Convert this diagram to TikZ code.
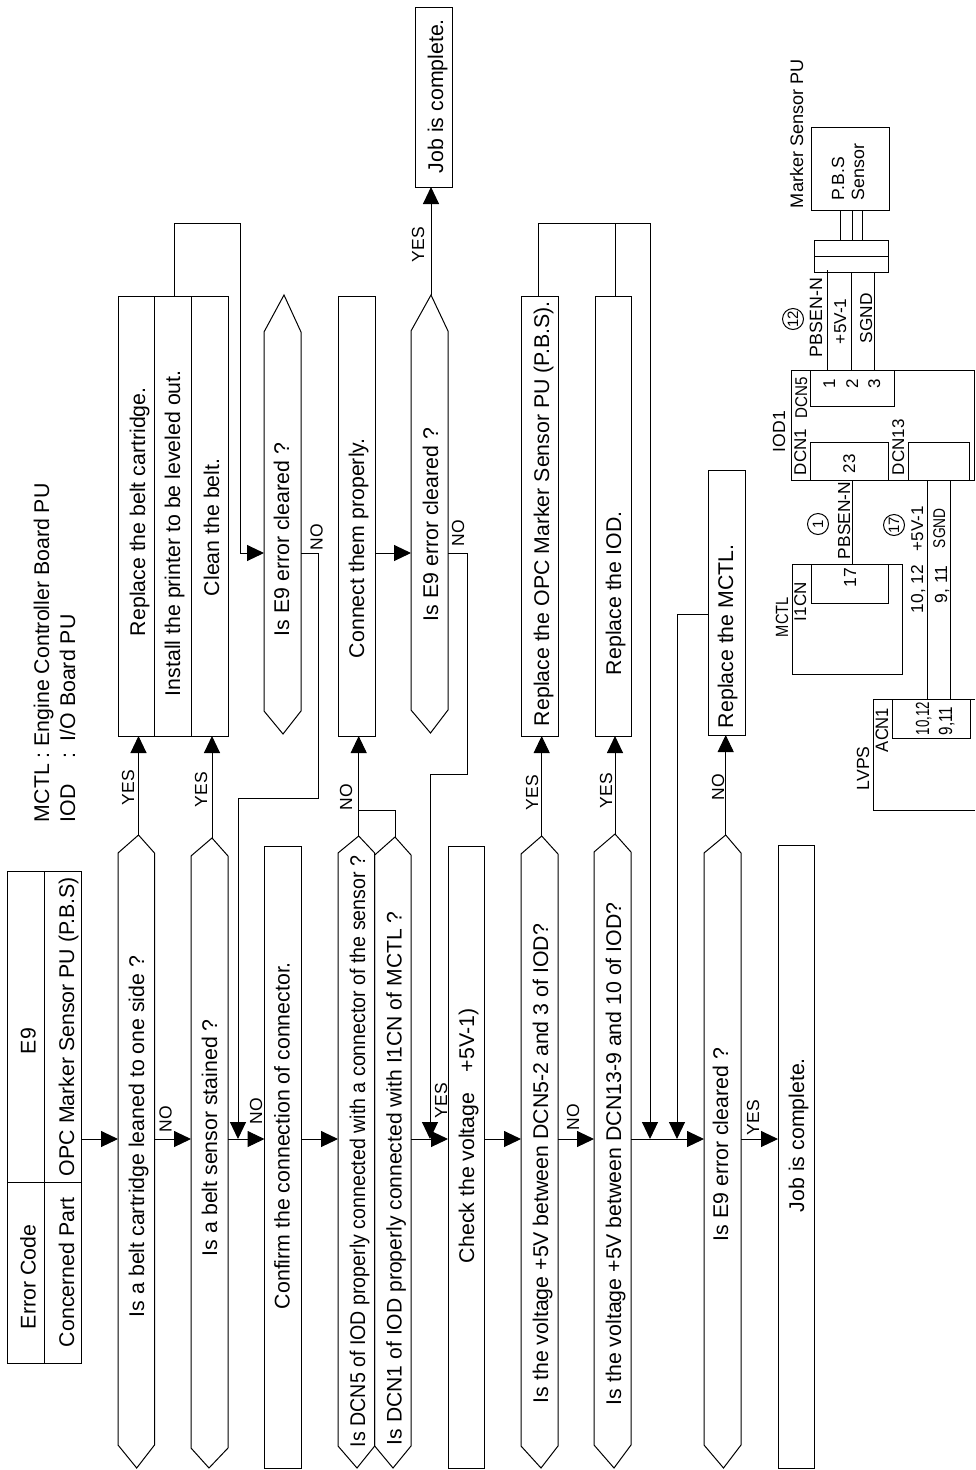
\documentclass[tikz,border=0pt]{standalone}
\usepackage{graphicx}
\usepackage{fontspec}
\setmainfont{Liberation Sans}
\usetikzlibrary{arrows.meta}
\tikzset{
  wire/.style={line width=1pt,line join=miter,draw=black},
  arr/.style={wire,-{Triangle[length=17pt,width=16pt]}},
  rb/.style={draw=black,line width=1pt,inner sep=0pt,outer sep=0pt},
  tx/.style={rotate=90,anchor=base west,inner sep=0pt,outer sep=0pt,text=black},
  ring/.style={draw=black,circle,line width=1pt,inner sep=0pt,outer sep=0pt,minimum size=21pt,rotate=90}
}
% rectangle node: name x1 y1 x2 y2
\newcommand{\rbox}[5]{\node[rb,minimum width={(#4-#2)*1pt},minimum height={(#5-#3)*1pt}] (#1) at ({(#2+#4)/2},{(#3+#5)/2}) {};}
% hexagon: name x1 x2 tipTopX tipTopY shoulderTop shoulderBot tipBotX tipBotY
\newcommand{\hexn}[9]{\draw[wire] (#2,#6) -- (#4,#5) -- (#3,#6) -- (#3,#7) -- (#8,#9) -- (#2,#7) -- cycle;
  \coordinate (#1-t) at (#4,#5);\coordinate (#1-l) at (#2,#6);\coordinate (#1-r) at (#3,#6);}
% text: name baselineX startY size text
\newcommand{\tx}[5]{\node[tx] (#1) at (#2,#3) {\fontsize{#4}{#4}\selectfont #5};}
% condensed text: name baselineX startY size hscale text
\newcommand{\txc}[6]{\node[tx] (#1) at (#2,#3) {\scalebox{#5}[1]{\fontsize{#4}{#4}\selectfont #6}};}
\begin{document}
\begin{tikzpicture}[x=1pt,y=-1pt]
\useasboundingbox (0,0) rectangle (975,1470);
\coordinate (flow) at (0,1139);
\coordinate (lineA) at (0,553);

% header table
\rbox{cE}{7.5}{871}{44}{1182}
\rbox{cEC}{7.5}{1182}{44}{1363}
\rbox{cO}{44}{871}{81}{1182}
\rbox{cCP}{44}{1182}{81}{1363}
\tx{tEC}{35.7}{1329}{21.3}{Error Code}
\tx{tCP}{74}{1347}{21.3}{Concerned Part}
\tx{tE}{35.7}{1054}{21.3}{E9}
\tx{tO}{74}{1176}{21.3}{OPC Marker Sensor PU (P.B.S)}
\tx{tM}{49}{822}{21.3}{MCTL : Engine Controller Board PU}
\tx{tI}{75}{822}{21.3}{IOD\hspace{26pt}:\hspace{11pt}I/O Board PU}

% lower row
\hexn{q1}{118}{154.5}{138.5}{835}{853}{1445}{136.7}{1468}
\hexn{q2}{191}{228}{212}{838}{856}{1448}{209}{1468}
\rbox{rc}{264.5}{846}{301}{1468}
\hexn{q3}{338}{374.7}{358.7}{836}{853}{1446}{357}{1468}
\hexn{q4}{374.7}{411}{395}{837}{855}{1446}{393}{1468}
\rbox{rv}{448}{846}{484.5}{1468}
\hexn{q5}{521}{558}{541.7}{836}{854}{1446}{541}{1468}
\hexn{q6}{594}{631}{615}{834}{852}{1445}{614}{1468}
\hexn{q7}{704}{741}{725.7}{835}{853}{1445}{723.5}{1468}
\rbox{rj}{778}{845}{814}{1468}

% upper row
\rbox{rb1}{118}{296}{154.5}{736}
\rbox{rb2}{154.5}{296}{191}{736}
\rbox{rb3}{191}{296}{228}{736}
\hexn{e1}{264}{301}{284}{295}{332}{711}{283}{734}
\rbox{rcn}{338}{296}{375}{736}
\hexn{e2}{411}{448}{431}{295}{331}{710}{430.5}{733}
\rbox{rjt}{415}{7}{452}{187}
\rbox{rop}{521}{296}{558}{736}
\rbox{rio}{595}{296}{631}{736}
\rbox{rmc}{708}{470}{745}{735}

% texts of the flow
\tx{t1}{144}{1317}{21.3}{Is a belt cartridge leaned to one side ?}
\tx{t2}{217}{1256}{21.3}{Is a belt sensor stained ?}
\tx{t3}{289.5}{1309}{21.3}{Confirm the connection of connector.}
\txc{t4}{365}{1447}{21.3}{0.92}{Is DCN5 of IOD properly connected with a connector of the sensor ?}
\tx{t5}{401.7}{1445}{21.1}{Is DCN1 of IOD properly connected with I1CN of MCTL ?}
\tx{t6}{474}{1263}{21.3}{Check the voltage\hspace{20.5pt}+5V-1)}
\tx{t7}{548}{1403}{21.3}{Is the voltage +5V between DCN5-2 and 3 of IOD?}
\tx{t8}{621}{1405}{21.3}{Is the voltage +5V between DCN13-9 and 10 of IOD?}
\tx{t9}{728}{1241}{21.3}{Is E9 error cleared ?}
\tx{t10}{804}{1212}{21.3}{Job is complete.}
\tx{t11}{145}{636}{21.3}{Replace the belt cartridge.}
\tx{t12}{180}{696}{21.3}{Install the printer to be leveled out.}
\tx{t13}{219}{596}{21.3}{Clean the belt.}
\tx{t14}{289}{636}{21.3}{Is E9 error cleared ?}
\tx{t15}{364}{658}{21.3}{Connect them properly.}
\tx{t16}{438}{621}{21.3}{Is E9 error cleared ?}
\tx{t17}{443}{173}{21.3}{Job is complete.}
\tx{t18}{549}{726}{21.3}{Replace the OPC Marker Sensor PU (P.B.S).}
\tx{t19}{621}{675}{21.3}{Replace the IOD.}
\tx{t20}{733}{728}{21.3}{Replace the MCTL.}

% yes / no labels
\tx{l1}{171.7}{1132}{17.5}{NO}
\tx{l2}{262}{1124}{17.5}{NO}
\tx{l3}{447}{1118}{17.5}{YES}
\tx{l4}{579}{1130}{17.5}{NO}
\tx{l5}{759}{1135}{17.5}{YES}
\tx{l6}{134}{805}{17.5}{YES}
\tx{l7}{207}{807}{17.5}{YES}
\tx{l8}{322.7}{550}{17.5}{NO}
\tx{l9}{352}{810}{17.5}{NO}
\tx{l10}{424}{262}{17.5}{YES}
\tx{l11}{464}{546.5}{17.5}{NO}
\tx{l12}{538}{810}{17.5}{YES}
\tx{l13}{612}{808}{17.5}{YES}
\tx{l14}{724}{800}{17.5}{NO}

% main flow arrows
\draw[arr] (cO.east |- flow) -- (q1-l |- flow);
\draw[arr] (q1-r |- flow) -- (q2-l |- flow);
\draw[arr] (q2-r |- flow) -- (rc.west |- flow);
\draw[arr] (rc.east |- flow) -- (q3-l |- flow);
\draw[arr] (q4-r |- flow) -- (rv.west |- flow);
\draw[arr] (rv.east |- flow) -- (q5-l |- flow);
\draw[arr] (q5-r |- flow) -- (q6-l |- flow);
\draw[arr] (q6-r |- flow) -- (q7-l |- flow);
\draw[arr] (q7-r |- flow) -- (rj.west |- flow);

% branches to the upper row
\draw[arr] (q1-t) -- (q1-t |- rb1.south);
\draw[arr] (q2-t) -- (q2-t |- rb3.south);
\draw[arr] (q3-t) -- (q3-t |- rcn.south);
\coordinate (j34) at (358.7,810);
\draw[wire] (q4-t) |- (j34);
\draw[arr] (q5-t) -- (q5-t |- rop.south);
\draw[arr] (q6-t) -- (q6-t |- rio.south);
\draw[arr] (q7-t) -- (q7-t |- rmc.south);
\draw[arr] (e2-t) -- (e2-t |- rjt.south);
\draw[arr] (rcn.east |- lineA) -- (e2-l |- lineA);

% returns
\coordinate (inst) at (174,296);
\coordinate (a1) at (240,223);
\draw[arr] (inst) |- (a1) |- (e1-l |- lineA);
\coordinate (a2) at (318,798);
\coordinate (a3) at (238,1139);
\draw[arr] (e1-r |- lineA) -| (a2) -| (a3);
\coordinate (a4) at (467,774);
\coordinate (a5) at (430,1139);
\draw[arr] (e2-r |- lineA) -| (a4) -| (a5);
\coordinate (opc) at (538,296);
\coordinate (iod) at (615,296);
\coordinate (a6) at (650,223);
\coordinate (a7) at (650,1139);
\draw[arr] (opc) |- (a6) -- (a7);
\coordinate (a8) at (615,223);
\draw[wire] (iod) -- (a8);
\coordinate (mleft) at (708,614);
\coordinate (a9) at (677,1139);
\draw[arr] (mleft) -| (a9);

% circuit: sensor
\rbox{pbs}{811}{127}{889}{210}
\rbox{cnA}{814}{240}{888}{256}
\rbox{cnB}{814}{256}{888}{272}
\rbox{iod1}{791}{370}{974}{480}
\rbox{dcn5}{810}{370}{894}{406}
\rbox{dcn1}{810}{442}{888}{480}
\rbox{dcn13}{908}{442}{969}{480}
\rbox{mctl}{792}{564}{902}{674}
\rbox{i1cn}{811}{564}{888}{603}
\rbox{acn1}{892}{699}{970}{738}
\draw[wire] (975,699) coordinate (lvA) -- (873,699) -- (873,810) -- (975,810) coordinate (lvB);

\foreach \nm/\xx in {s1/840,s2/852,s3/862}{
  \coordinate (\nm a) at (\xx,210);\coordinate (\nm b) at (\xx,240);
  \draw[wire] (\nm a) -- (\nm b);}
\coordinate (w1a) at (827,270);\coordinate (w1b) at (827,370);
\draw[wire] (w1a) -- (w1b);
\coordinate (w2a) at (851,272);\coordinate (w2b) at (851,370);
\draw[wire] (w2a) -- (w2b);
\coordinate (w3a) at (874,272);\coordinate (w3b) at (874,370);
\draw[wire] (w3a) -- (w3b);
\coordinate (w4a) at (852,480);\coordinate (w4b) at (852,564);
\draw[wire] (w4a) -- (w4b);
\coordinate (w5a) at (927,480);\coordinate (w5b) at (927,699);
\draw[wire] (w5a) -- (w5b);
\coordinate (w6a) at (950,480);\coordinate (w6b) at (950,699);
\draw[wire] (w6a) -- (w6b);

\tx{c1}{803}{208}{18.1}{Marker Sensor PU}
\tx{c2}{844}{200}{17.6}{P.B.S}
\tx{c3}{864}{200}{17.8}{Sensor}
\tx{c4}{822}{357}{17.8}{PBSEN-N}
\tx{c5}{846}{344}{17.2}{+5V-1}
\tx{c6}{872}{343}{17.3}{SGND}
\tx{c7}{835}{388}{17}{1}
\tx{c8}{858}{388}{17}{2}
\tx{c9}{880}{388}{17}{3}
\txc{c10}{807}{418}{17}{0.89}{DCN5}
\tx{c11}{785}{452}{17.6}{IOD1}
\tx{c12}{806}{475}{17}{DCN1}
\tx{c13}{904}{475}{17}{DCN13}
\tx{c14}{855}{473}{17}{23}
\tx{c15}{850}{559}{17.4}{PBSEN-N}
\tx{c16}{856}{587}{17.5}{17}
\tx{c17}{806}{621}{17}{I1CN}
\txc{c18}{788}{637}{17.7}{0.83}{MCTL}
\tx{c19}{923}{551}{17}{+5V-1}
\txc{c20}{945}{548}{17}{0.81}{SGND}
\tx{c21}{923}{613}{17.3}{10, 12}
\tx{c22}{947}{603}{17.5}{9, 11}
\txc{c23}{888}{752}{18}{0.92}{ACN1}
\tx{c24}{869}{790}{17.6}{LVPS}
\txc{c25}{929}{735}{19}{0.7}{10,12}
\txc{c26}{952}{735}{19}{0.8}{9,11}

\node[ring] (r12) at (793,319) {\fontsize{15}{15}\selectfont 12};
\node[ring] (r1) at (818,524) {\fontsize{15}{15}\selectfont 1};
\node[ring] (r17) at (894,525) {\fontsize{15}{15}\selectfont 17};
\end{tikzpicture}
\end{document}
